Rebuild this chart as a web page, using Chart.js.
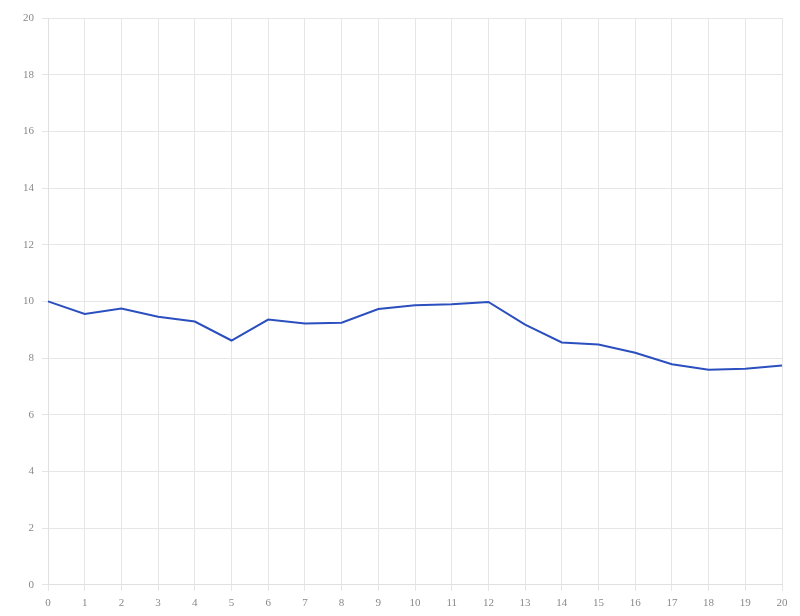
<!DOCTYPE html>
<html>
<head>
<meta charset="utf-8">
<script src="https://cdn.jsdelivr.net/npm/chart.js@4/dist/chart.umd.min.js"></script>
<style>
html,body{margin:0;padding:0;background:#fff;}
#wrap{width:800px;height:616px;}
</style>
</head>
<body>
<div id="wrap"><canvas id="c" width="800" height="616"></canvas></div>
<script>
const categories = ["0","1","2","3","4","5","6","7","8","9","10","11","12","13","14","15","16","17","18","19","20"];
const seriesValues = [10.0, 9.56, 9.75, 9.46, 9.29, 8.62, 9.36, 9.22, 9.25, 9.73, 9.86, 9.90, 9.98, 9.18, 8.55, 8.48, 8.19, 7.78, 7.59, 7.62, 7.74];
const yTicks = [0, 2, 4, 6, 8, 10, 12, 14, 16, 18, 20];

new Chart(document.getElementById('c'), {
  type: 'line',
  data: {
    labels: categories,
    datasets: [{
      data: seriesValues,
      borderColor: '#2b4fbf',
      borderWidth: 2,
      pointRadius: 0,
      tension: 0,
      fill: false
    }]
  },
  options: {
    responsive: false,
    animation: false,
    layout: { padding: { top: 18, right: 18, left: 15, bottom: 0 } },
    plugins: { legend: { display: false }, tooltip: { enabled: false } },
    scales: {
      x: {
        offset: false,
        grid: { color: '#e6e6e6', lineWidth: 1, tickLength: 6 },
        border: { color: '#e0e0e0' },
        ticks: { color: '#888', font: { family: 'Liberation Serif', size: 11 }, padding: 6, maxRotation: 0, autoSkip: false }
      },
      y: {
        min: 0, max: 20,
        afterBuildTicks: (s) => { s.ticks = yTicks.map(v => ({ value: v })); },
        grid: { color: '#e6e6e6', lineWidth: 1, tickLength: 6 },
        border: { color: '#e0e0e0' },
        ticks: { color: '#888', font: { family: 'Liberation Serif', size: 11 }, padding: 8 }
      }
    }
  }
});
</script>
</body>
</html>
